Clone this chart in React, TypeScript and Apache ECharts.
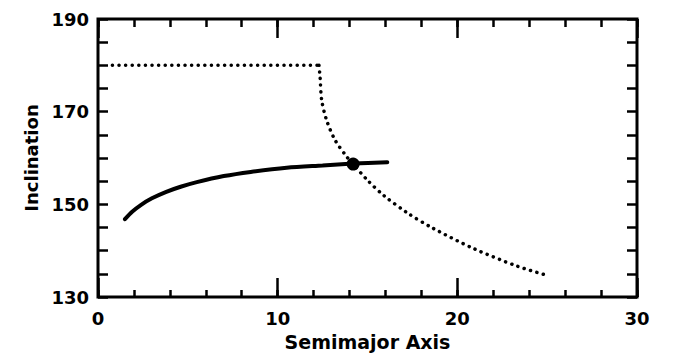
import React, { useEffect, useRef } from "react";
import * as echarts from "echarts";

const solidCurve: [number, number][] = [
  [1.5, 146.8], [1.9, 148.4], [2.4, 149.9], [3.0, 151.3], [3.8, 152.7], [4.6, 153.8],
  [5.5, 154.8], [7.0, 156.1], [8.5, 157.0], [10.5, 157.9], [12.5, 158.4], [14.2, 158.8], [16.1, 159.1],
];
const dottedFlat: [number, number][] = [[0.8, 180], [12.3, 180]];
const dottedCurve: [number, number][] = [
  [12.3, 180], [12.36, 177.5], [12.45, 172.5], [12.72, 168.2], [13.19, 163.9],
  [13.84, 160.3], [14.2, 158.7], [15.0, 155.2], [15.88, 152.0], [17.2, 148.2],
  [18.57, 145.0], [20.88, 140.5], [23.3, 136.7], [25.06, 134.6],
];
const crossing: [number, number][] = [[14.2, 158.7]];
const xLabels = [0, 10, 20, 30];
const yLabels = [130, 150, 170, 190];

const FONT = "DejaVu Sans";

export default function App() {
  const ref = useRef<HTMLDivElement>(null);
  useEffect(() => {
    const chart = echarts.init(ref.current!, null, { renderer: "svg" });
    const baseX = {
      type: "value" as const, min: 0, max: 30, splitLine: { show: false },
      axisLine: { show: false, onZero: false }, axisLabel: { show: false },
    };
    const baseY = {
      type: "value" as const, min: 130, max: 190, splitLine: { show: false },
      axisLine: { show: false, onZero: false }, axisLabel: { show: false },
    };
    const tick = (len: number) => ({ show: true, inside: true, length: len, lineStyle: { color: "#000", width: 2.5 } });
    chart.setOption({
      animation: false,
      backgroundColor: "#fff",
      grid: {
        left: 98, right: 43, top: 19, bottom: 56, containLabel: false, outerBoundsMode: "none",
        show: true, borderColor: "#000", borderWidth: 3, backgroundColor: "transparent",
      },
      xAxis: [
        {
          ...baseX, position: "bottom", interval: 2, axisTick: tick(7),
          axisLabel: {
            show: true, margin: 12, color: "#000", fontFamily: FONT, fontWeight: "bold", fontSize: 18,
            formatter: (v: number) => (xLabels.includes(v) ? String(v) : ""),
          },
          name: "Semimajor Axis", nameLocation: "middle", nameGap: 35,
          nameTextStyle: { color: "#000", fontFamily: FONT, fontWeight: "bold", fontSize: 19, lineHeight: 20 },
        },
        { ...baseX, position: "bottom", interval: 10, axisTick: tick(19) },
        { ...baseX, position: "top", interval: 2, axisTick: tick(8) },
        { ...baseX, position: "top", interval: 10, axisTick: tick(19) },
      ],
      yAxis: [
        {
          ...baseY, position: "left", interval: 5, axisTick: tick(10),
          axisLabel: {
            show: true, margin: 9, color: "#000", fontFamily: FONT, fontWeight: "bold", fontSize: 18,
            formatter: (v: number) => (yLabels.includes(v) ? String(v) : ""),
          },
          name: "Inclination", nameLocation: "middle", nameGap: 50,
          nameTextStyle: { color: "#000", fontFamily: FONT, fontWeight: "bold", fontSize: 18 },
        },
        { ...baseY, position: "right", interval: 5, axisTick: tick(10) },
      ],
      series: [
        {
          type: "line", data: solidCurve, smooth: 0.3, showSymbol: false, symbol: "none",
          lineStyle: { color: "#000", width: 4, cap: "round" },
        },
        {
          type: "line", data: dottedFlat, showSymbol: false, symbol: "none",
          lineStyle: { color: "#000", width: 3.5, type: [0.1, 6.5], cap: "round" },
        },
        {
          type: "line", data: dottedCurve, smooth: 0.3, showSymbol: false, symbol: "none",
          lineStyle: { color: "#000", width: 3.5, type: [0.1, 6.5], cap: "round" },
        },
        {
          type: "scatter", data: crossing, symbol: "circle", symbolSize: 13,
          itemStyle: { color: "#000", opacity: 1 },
        },
      ],
    });
    return () => chart.dispose();
  }, []);
  return <div ref={ref} style={{ width: 680, height: 353, position: "absolute", left: 0, top: 0 }} />;
}
